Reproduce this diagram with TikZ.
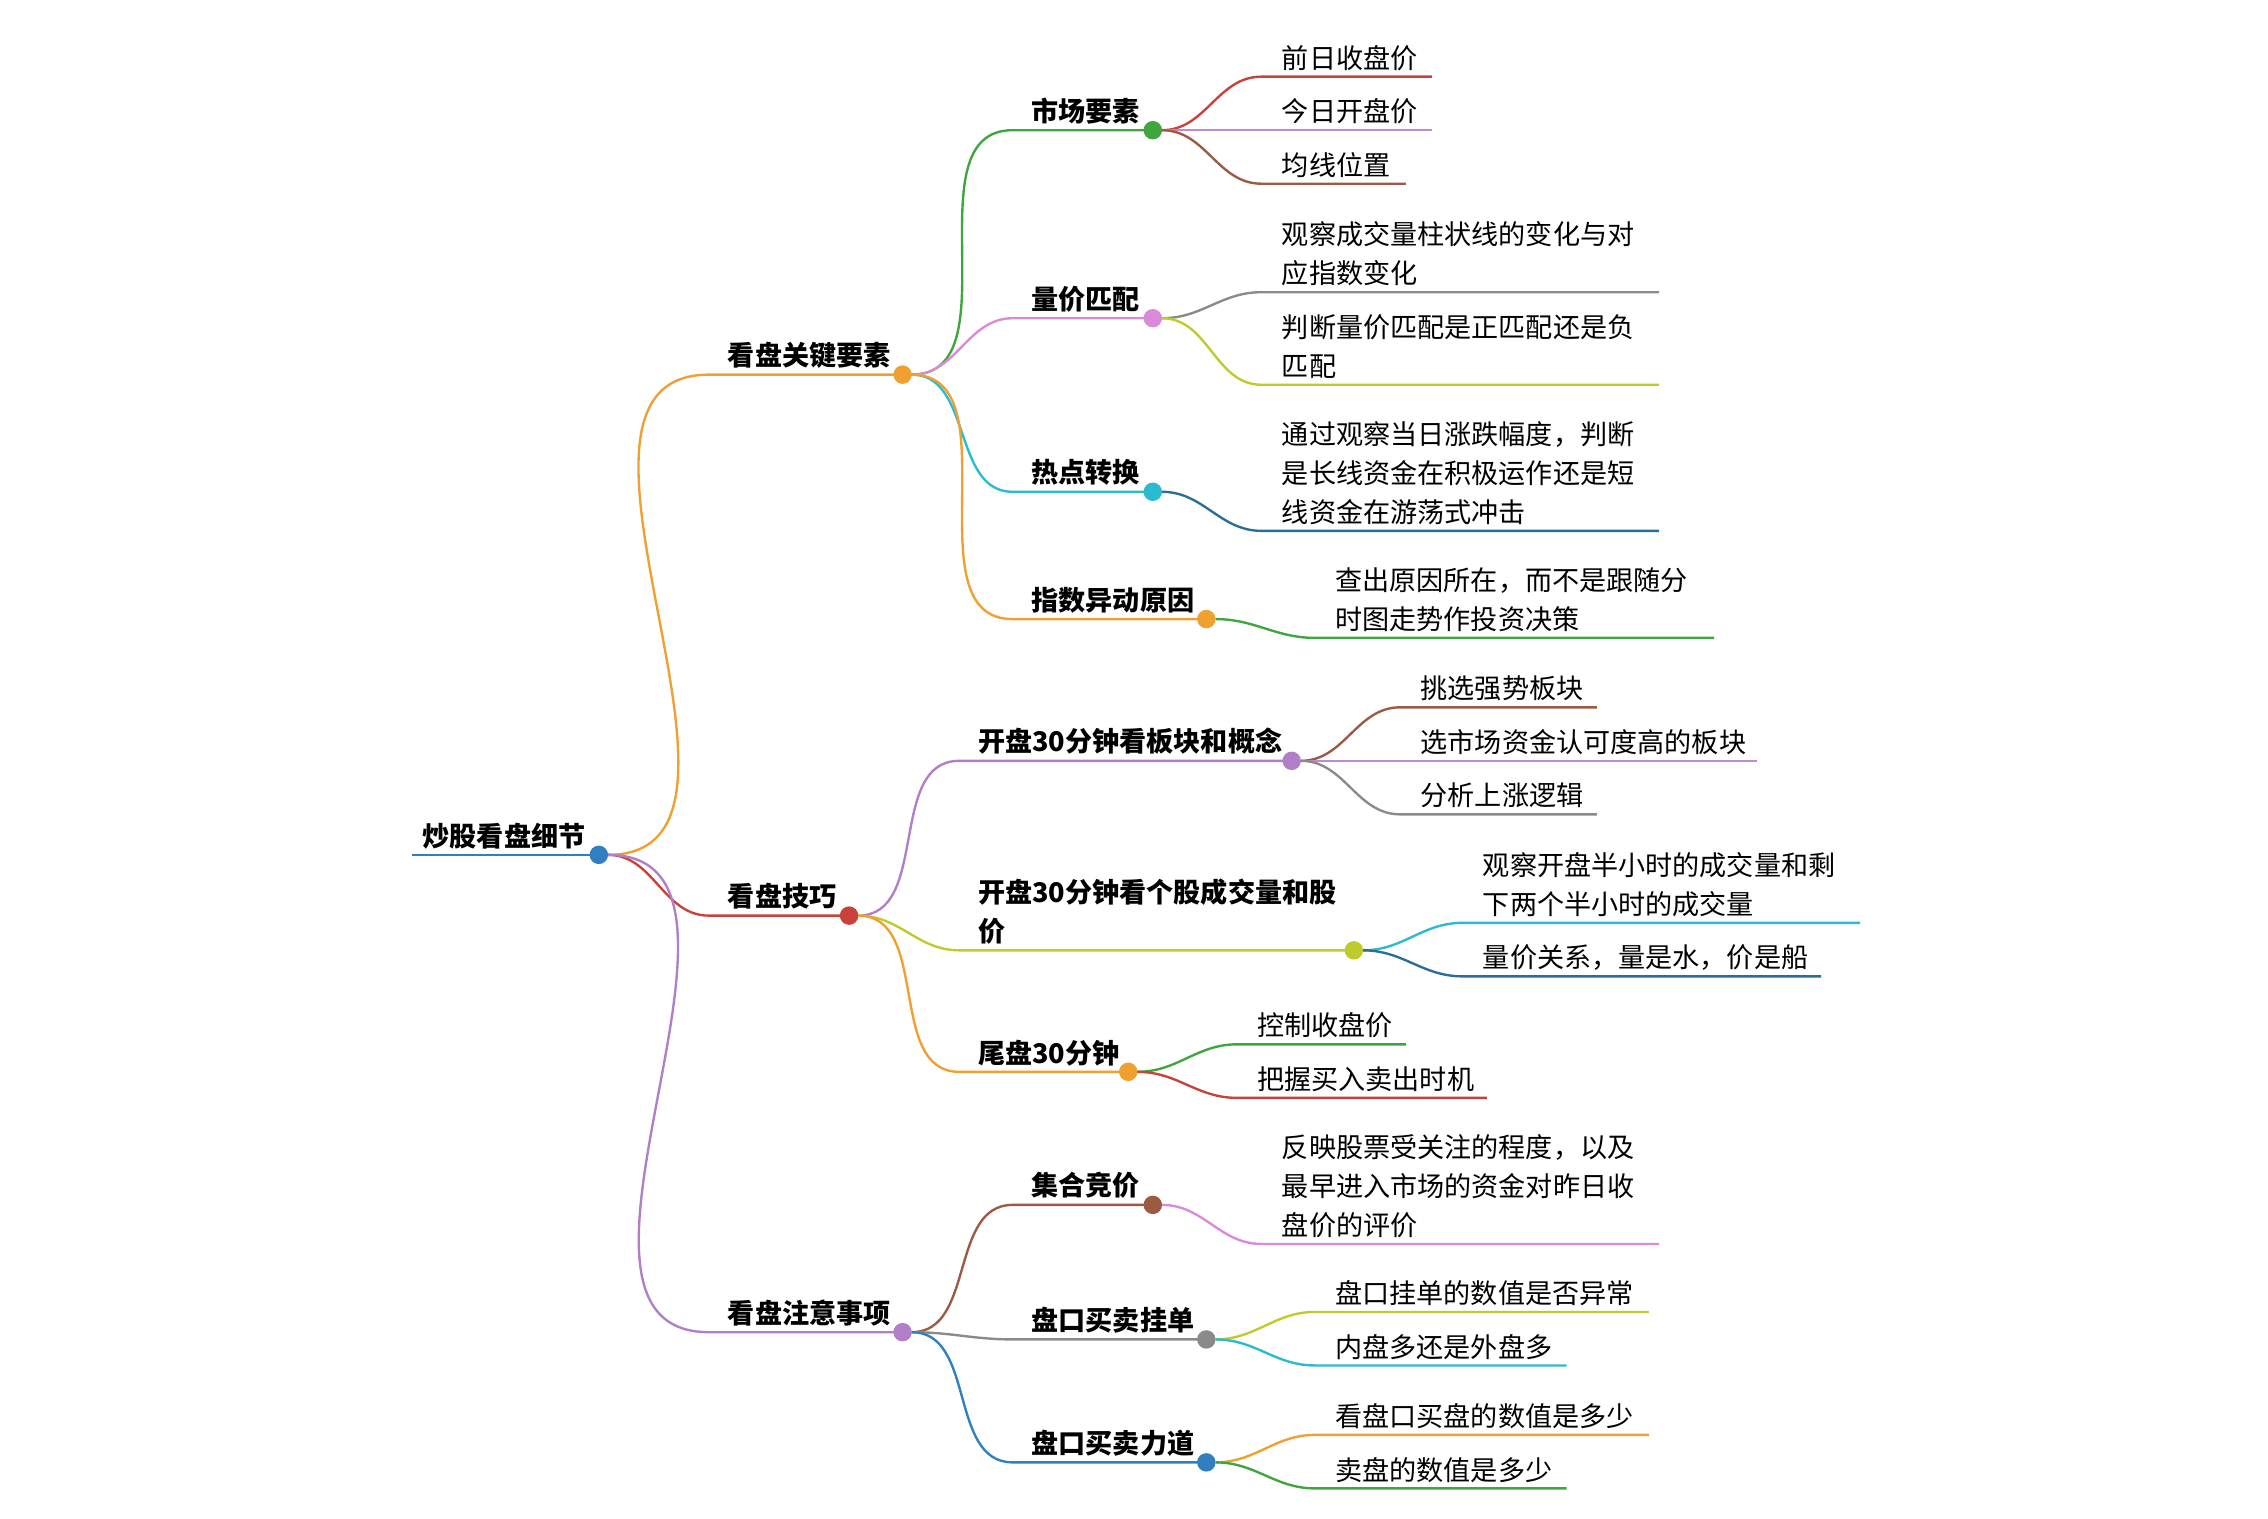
\documentclass[tikz,border=0pt]{standalone}
\usepackage{fontspec}
\setmainfont{Noto Sans CJK SC}
\definecolor{cblue}{HTML}{2F7FC1}
\definecolor{corange}{HTML}{F0A030}
\definecolor{cred}{HTML}{C8413B}
\definecolor{cpurple}{HTML}{B07FC8}
\definecolor{cgreen}{HTML}{3FA63F}
\definecolor{cpink}{HTML}{D98AD9}
\definecolor{ccyan}{HTML}{2BBBD0}
\definecolor{cbrown}{HTML}{9A5A44}
\definecolor{cviolet}{HTML}{C08ACF}
\definecolor{cgray}{HTML}{8A8A8A}
\definecolor{cyg}{HTML}{BFCB2A}
\definecolor{cdblue}{HTML}{2A6E98}
\tikzset{
  lbl/.style={anchor=south west, inner sep=0pt, font=\fontsize{16}{23}\selectfont\bfseries, align=left},
  leaf/.style={anchor=south west, inner sep=0pt, font=\fontsize{16}{23}\selectfont, align=left},
  dot/.style={circle, draw, fill=white, line width=1.2pt, inner sep=0pt, minimum size=0.34cm},
  br/.style={line width=1.4pt},
}
\begin{document}
\begin{tikzpicture}[x=0.03cm, y=-0.03cm]
\useasboundingbox (0,0) rectangle (1568,1050);
% root
\coordinate (s0) at (285,591);
\node[lbl] (t0) at (292,587) {炒股看盘细节};
\draw[br, cblue] (s0) -- (414,591);
\node[dot, cblue] (c0) at (414,591) {};
% level 1
\coordinate (s1) at (490,259);
\node[lbl] (t1) at (503,255) {看盘关键要素};
\draw[br, corange] (c0.east) to[out=0,in=180] (s1) -- (624,259);
\node[dot, corange] (c1) at (624,259) {};
\coordinate (s2) at (490,633);
\node[lbl] (t2) at (503,629) {看盘技巧};
\draw[br, cred] (c0.east) to[out=0,in=180] (s2) -- (587,633);
\node[dot, cred] (c2) at (587,633) {};
\coordinate (s3) at (490,921);
\node[lbl] (t3) at (503,917) {看盘注意事项};
\draw[br, cpurple] (c0.east) to[out=0,in=180] (s3) -- (624,921);
\node[dot, cpurple] (c3) at (624,921) {};
% level 2 under c1
\coordinate (s11) at (700,90);
\node[lbl] (t11) at (713,86) {市场要素};
\draw[br, cgreen] (c1.east) to[out=0,in=180] (s11) -- (797,90);
\node[dot, cgreen] (c11) at (797,90) {};
\coordinate (s12) at (700,220);
\node[lbl] (t12) at (713,216) {量价匹配};
\draw[br, cpink] (c1.east) to[out=0,in=180] (s12) -- (797,220);
\node[dot, cpink] (c12) at (797,220) {};
\coordinate (s13) at (700,340);
\node[lbl] (t13) at (713,336) {热点转换};
\draw[br, ccyan] (c1.east) to[out=0,in=180] (s13) -- (797,340);
\node[dot, ccyan] (c13) at (797,340) {};
\coordinate (s14) at (700,428);
\node[lbl] (t14) at (713,424) {指数异动原因};
\draw[br, corange] (c1.east) to[out=0,in=180] (s14) -- (834,428);
\node[dot, corange] (c14) at (834,428) {};
% leaves of c11 .. c14
\coordinate (e111) at (990,53);
\node[leaf] (l111) at (886,49) {前日收盘价};
\draw[br, cred] (c11.east) to[out=0,in=180] (872,53) -- (e111);
\coordinate (e112) at (990,90);
\node[leaf] (l112) at (886,86) {今日开盘价};
\draw[br, cviolet] (c11.east) -- (e112);
\coordinate (e113) at (972,127);
\node[leaf] (l113) at (886,123) {均线位置};
\draw[br, cbrown] (c11.east) to[out=0,in=180] (872,127) -- (e113);
\coordinate (e121) at (1147,202);
\node[leaf] (l121) at (886,198) {观察成交量柱状线的变化与对\\应指数变化};
\draw[br, cgray] (c12.east) to[out=0,in=180] (872,202) -- (e121);
\coordinate (e122) at (1147,266);
\node[leaf] (l122) at (886,262) {判断量价匹配是正匹配还是负\\匹配};
\draw[br, cyg] (c12.east) to[out=0,in=180] (872,266) -- (e122);
\coordinate (e131) at (1147,367);
\node[leaf] (l131) at (886,363) {通过观察当日涨跌幅度，判断\\是长线资金在积极运作还是短\\线资金在游荡式冲击};
\draw[br, cdblue] (c13.east) to[out=0,in=180] (872,367) -- (e131);
\coordinate (e141) at (1185,441);
\node[leaf] (l141) at (923,437) {查出原因所在，而不是跟随分\\时图走势作投资决策};
\draw[br, cgreen] (c14.east) to[out=0,in=180] (909,441) -- (e141);
% level 2 under c2
\coordinate (s21) at (663,526);
\node[lbl] (t21) at (676,522) {开盘30分钟看板块和概念};
\draw[br, cpurple] (c2.east) to[out=0,in=180] (s21) -- (893,526);
\node[dot, cpurple] (c21) at (893,526) {};
\coordinate (s22) at (663,657);
\node[lbl] (t22) at (676,653) {开盘30分钟看个股成交量和股\\价};
\draw[br, cyg] (c2.east) to[out=0,in=180] (s22) -- (936,657);
\node[dot, cyg] (c22) at (936,657) {};
\coordinate (s23) at (663,741);
\node[lbl] (t23) at (676,737) {尾盘30分钟};
\draw[br, corange] (c2.east) to[out=0,in=180] (s23) -- (780,741);
\node[dot, corange] (c23) at (780,741) {};
% leaves of c21 .. c23
\coordinate (e211) at (1104,489);
\node[leaf] (l211) at (982,485) {挑选强势板块};
\draw[br, cbrown] (c21.east) to[out=0,in=180] (968,489) -- (e211);
\coordinate (e212) at (1215,526);
\node[leaf] (l212) at (982,522) {选市场资金认可度高的板块};
\draw[br, cviolet] (c21.east) -- (e212);
\coordinate (e213) at (1104,563);
\node[leaf] (l213) at (982,559) {分析上涨逻辑};
\draw[br, cgray] (c21.east) to[out=0,in=180] (968,563) -- (e213);
\coordinate (e221) at (1286,638);
\node[leaf] (l221) at (1025,634) {观察开盘半小时的成交量和剩\\下两个半小时的成交量};
\draw[br, ccyan] (c22.east) to[out=0,in=180] (1011,638) -- (e221);
\coordinate (e222) at (1259,675);
\node[leaf] (l222) at (1025,671) {量价关系，量是水，价是船};
\draw[br, cdblue] (c22.east) to[out=0,in=180] (1011,675) -- (e222);
\coordinate (e231) at (972,722);
\node[leaf] (l231) at (869,718) {控制收盘价};
\draw[br, cgreen] (c23.east) to[out=0,in=180] (855,722) -- (e231);
\coordinate (e232) at (1028,759);
\node[leaf] (l232) at (869,755) {把握买入卖出时机};
\draw[br, cred] (c23.east) to[out=0,in=180] (855,759) -- (e232);
% level 2 under c3
\coordinate (s31) at (700,833);
\node[lbl] (t31) at (713,829) {集合竞价};
\draw[br, cbrown] (c3.east) to[out=0,in=180] (s31) -- (797,833);
\node[dot, cbrown] (c31) at (797,833) {};
\coordinate (s32) at (700,926);
\node[lbl] (t32) at (713,922) {盘口买卖挂单};
\draw[br, cgray] (c3.east) to[out=0,in=180] (s32) -- (834,926);
\node[dot, cgray] (c32) at (834,926) {};
\coordinate (s33) at (700,1011);
\node[lbl] (t33) at (713,1007) {盘口买卖力道};
\draw[br, cblue] (c3.east) to[out=0,in=180] (s33) -- (834,1011);
\node[dot, cblue] (c33) at (834,1011) {};
% leaves of c31 .. c33
\coordinate (e311) at (1147,860);
\node[leaf] (l311) at (886,856) {反映股票受关注的程度，以及\\最早进入市场的资金对昨日收\\盘价的评价};
\draw[br, cpink] (c31.east) to[out=0,in=180] (872,860) -- (e311);
\coordinate (e321) at (1140,907);
\node[leaf] (l321) at (923,903) {盘口挂单的数值是否异常};
\draw[br, cyg] (c32.east) to[out=0,in=180] (909,907) -- (e321);
\coordinate (e322) at (1083,944);
\node[leaf] (l322) at (923,940) {内盘多还是外盘多};
\draw[br, ccyan] (c32.east) to[out=0,in=180] (909,944) -- (e322);
\coordinate (e331) at (1140,992);
\node[leaf] (l331) at (923,988) {看盘口买盘的数值是多少};
\draw[br, corange] (c33.east) to[out=0,in=180] (909,992) -- (e331);
\coordinate (e332) at (1083,1029);
\node[leaf] (l332) at (923,1025) {卖盘的数值是多少};
\draw[br, cgreen] (c33.east) to[out=0,in=180] (909,1029) -- (e332);
\end{tikzpicture}
\end{document}
